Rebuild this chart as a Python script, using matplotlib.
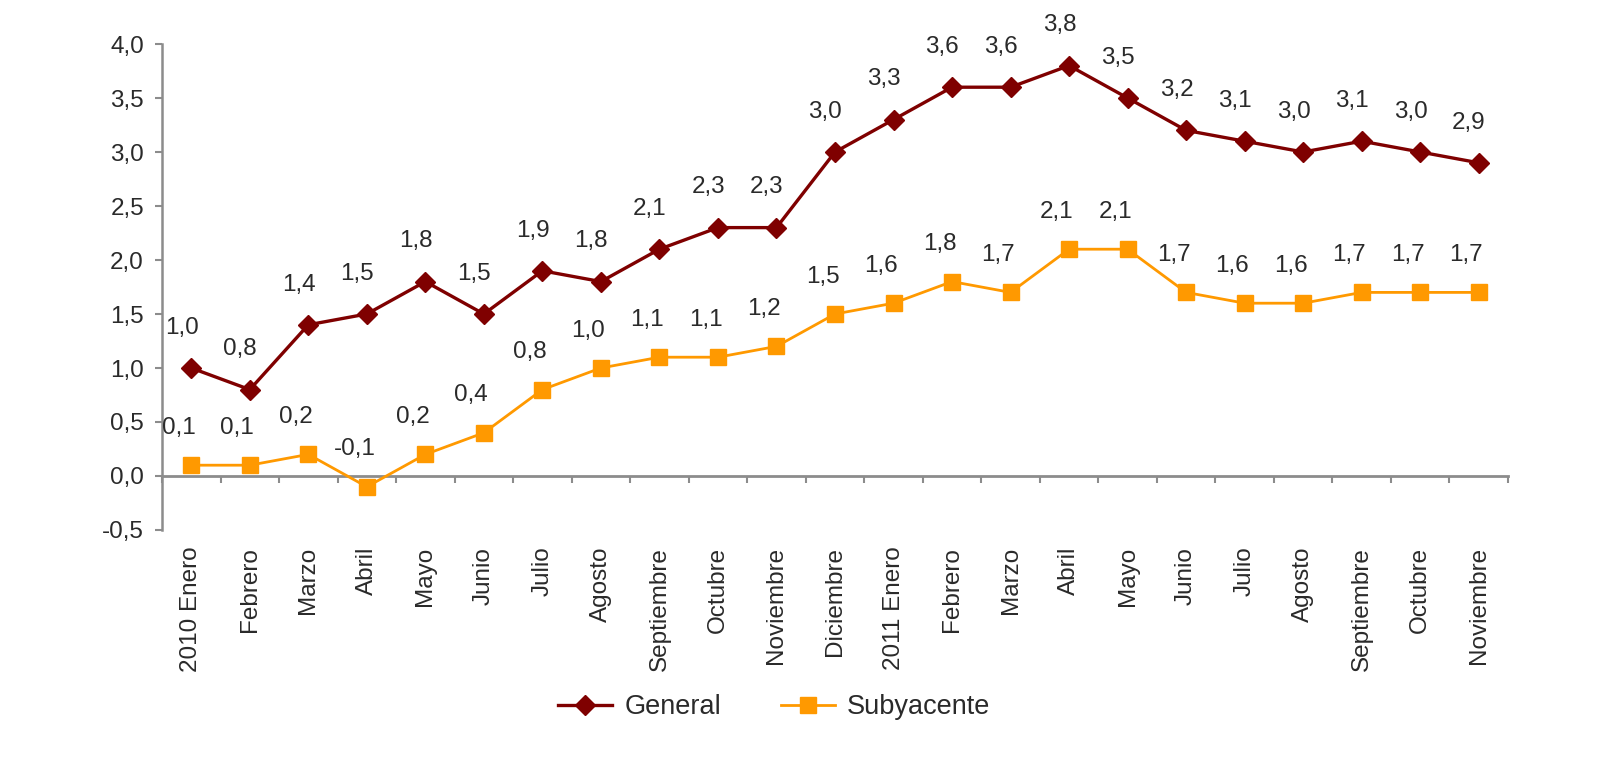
import matplotlib
matplotlib.use("Agg")
import matplotlib.pyplot as plt
from matplotlib.ticker import FuncFormatter, FixedLocator
import numpy as np

plt.rcParams['font.family'] = ['Liberation Sans', 'DejaVu Sans']

months = ["2010 Enero", "Febrero", "Marzo", "Abril", "Mayo", "Junio", "Julio",
          "Agosto", "Septiembre", "Octubre", "Noviembre", "Diciembre",
          "2011 Enero", "Febrero", "Marzo", "Abril", "Mayo", "Junio", "Julio",
          "Agosto", "Septiembre", "Octubre", "Noviembre"]
general = [1.0, 0.8, 1.4, 1.5, 1.8, 1.5, 1.9, 1.8, 2.1, 2.3, 2.3, 3.0,
           3.3, 3.6, 3.6, 3.8, 3.5, 3.2, 3.1, 3.0, 3.1, 3.0, 2.9]
subyacente = [0.1, 0.1, 0.2, -0.1, 0.2, 0.4, 0.8, 1.0, 1.1, 1.1, 1.2, 1.5,
              1.6, 1.8, 1.7, 2.1, 2.1, 1.7, 1.6, 1.6, 1.7, 1.7, 1.7]
series_names = ["General", "Subyacente"]

c_gen = "#7f0000"
c_sub = "#ff9900"
txt = "#2a2a2a"
axc = "#8c8c8c"
fs = 17.5

fig = plt.figure(figsize=(16, 7.68), dpi=100)
ax = fig.add_axes([0.10125, 0.3099, 0.84125, 0.6328])
x = np.arange(len(months))
ymin, ymax = -0.5, 4.0

l1, = ax.plot(x, general, color=c_gen, lw=2.4, marker="D", ms=10,
              mfc=c_gen, mec=c_gen, label=series_names[0], zorder=3)
l2, = ax.plot(x, subyacente, color=c_sub, lw=2.0, marker="s", ms=11.5,
              mfc=c_sub, mec=c_sub, label=series_names[1], zorder=3)

fmt = lambda v: f"{v:.1f}".replace(".", ",")
for xi, v in zip(x, general):
    ax.annotate(fmt(v), (xi, v), xytext=(-7, 29), textcoords="offset points",
                ha="center", va="center", fontsize=fs, color=txt)
for xi, v in zip(x, subyacente):
    ax.annotate(fmt(v), (xi, v), xytext=(-9, 27), textcoords="offset points",
                ha="center", va="center", fontsize=fs, color=txt)

ax.set_xlim(-0.5, len(months) - 0.5)
ax.set_ylim(ymin, ymax)
ax.yaxis.set_major_locator(FixedLocator(np.arange(-0.5, 4.01, 0.5)))
ax.yaxis.set_major_formatter(FuncFormatter(lambda v, p: fmt(v)))
ax.tick_params(axis="y", length=5, width=1.5, color=axc, pad=8,
               labelsize=fs, labelcolor=txt)

ax.set_xticks(x)
ax.set_xticklabels(months, rotation=90, va="top", ha="center")
ax.tick_params(axis="x", length=0, pad=12, labelsize=fs, labelcolor=txt)

for s in ["top", "right", "bottom"]:
    ax.spines[s].set_visible(False)
ax.spines["left"].set_color(axc)
ax.spines["left"].set_linewidth(1.8)

# x axis line crossing at zero with tick marks between categories
loc0 = (0 - ymin) / (ymax - ymin)
sec = ax.secondary_xaxis(loc0)
sec.set_xticks(np.arange(-0.5, len(months), 1.0))
sec.set_xticklabels([])
sec.tick_params(axis="x", direction="out", length=5, width=1.5, color=axc)
sec.spines["bottom"].set_color(axc)
sec.spines["bottom"].set_linewidth(2)

fig.legend(handles=[l1, l2], loc="center", bbox_to_anchor=(0.484, 0.0794),
           ncol=2, frameon=False, fontsize=19.5, handlelength=2.0,
           handletextpad=0.45, columnspacing=2.2, labelcolor=txt)

fig.savefig("out.png", dpi=100)
